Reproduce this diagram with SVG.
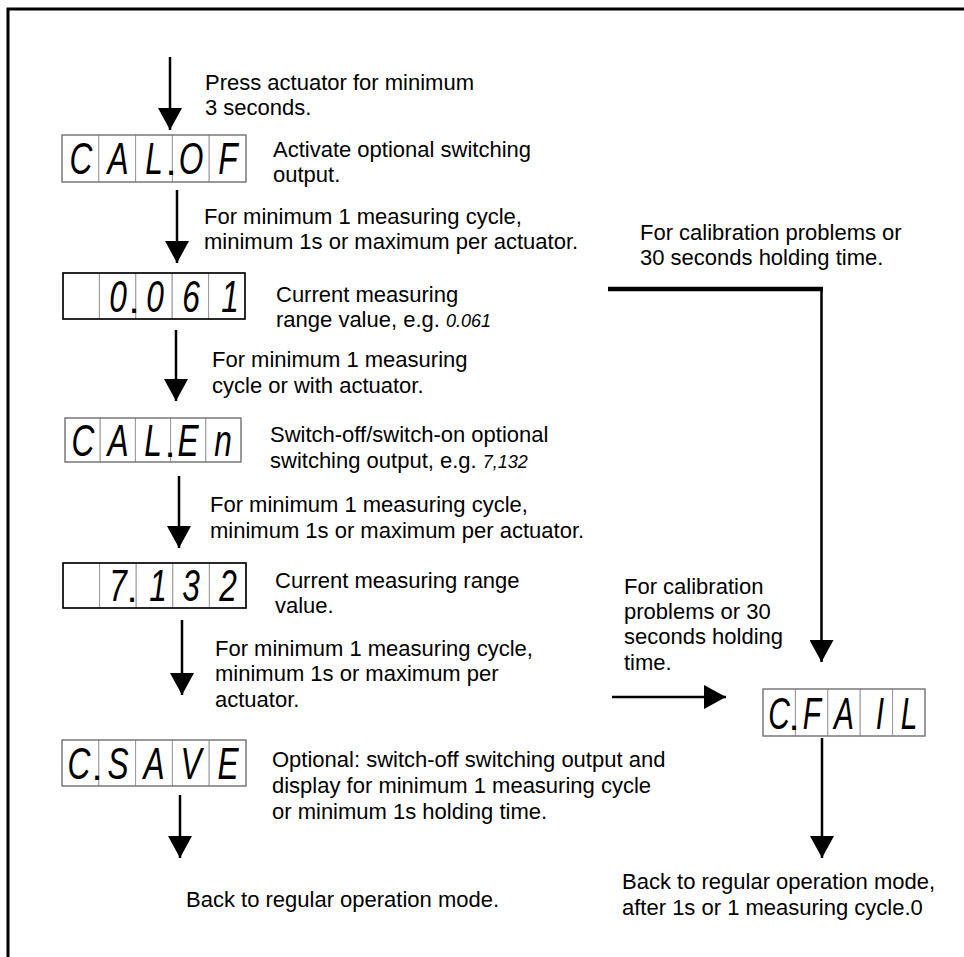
<svg xmlns="http://www.w3.org/2000/svg" width="964" height="957" viewBox="0 0 964 957">
<style>
.t{font-family:"Liberation Sans",Arial,sans-serif;font-size:22px;fill:#000}
.seg{font-family:"Liberation Sans",Arial,sans-serif;font-style:italic;font-size:44px;fill:#000;text-anchor:middle}
.dot{font-family:"Liberation Sans",Arial,sans-serif;font-size:40px;fill:#000;text-anchor:middle}
.iseg{font-family:"Liberation Sans",Arial,sans-serif;font-style:italic;font-size:18px}
.cell{fill:#fff;stroke:#999;stroke-width:1}
.outer{fill:none;stroke:#777;stroke-width:1.2}
.outerk{fill:none;stroke:#000;stroke-width:1.6}
.con{stroke:#000;stroke-width:2.5;fill:none}
</style>
<defs>
<marker id="ah" viewBox="0 0 22 24" refX="22" refY="12" markerWidth="22" markerHeight="24" markerUnits="userSpaceOnUse" orient="auto">
<path d="M0,0 L22,12 L0,24 Z" fill="#000"/>
</marker>
</defs>
<rect width="964" height="957" fill="#fff"/>
<path d="M8,957 V9 H964" fill="none" stroke="#000" stroke-width="3"/>

<g id="connectors">
<line class="con" x1="170" y1="57" x2="170" y2="130" marker-end="url(#ah)"/>
<line class="con" x1="177" y1="190" x2="177" y2="263" marker-end="url(#ah)"/>
<line class="con" x1="176" y1="330" x2="176" y2="401" marker-end="url(#ah)"/>
<line class="con" x1="179" y1="476" x2="179" y2="548" marker-end="url(#ah)"/>
<line class="con" x1="182" y1="620" x2="182" y2="695" marker-end="url(#ah)"/>
<line class="con" x1="180" y1="795" x2="180" y2="858" marker-end="url(#ah)"/>
<line x1="608" y1="289" x2="823" y2="289" stroke="#000" stroke-width="4.5"/>
<line class="con" x1="821.5" y1="287" x2="821.5" y2="662" stroke-width="3" marker-end="url(#ah)"/>
<line class="con" x1="612" y1="697" x2="726" y2="697" marker-end="url(#ah)"/>
<line class="con" x1="822" y1="738" x2="822" y2="858" marker-end="url(#ah)"/>
</g>

<g id="start-label">
<text class="t" x="205" y="90">Press actuator for minimum</text>
<text class="t" x="205" y="115">3 seconds.</text>
</g>

<g id="disp-calof">
<rect class="cell" x="62" y="135" width="36.8" height="47"/>
<rect class="cell" x="98.8" y="135" width="36.8" height="47"/>
<rect class="cell" x="135.6" y="135" width="36.8" height="47"/>
<rect class="cell" x="172.4" y="135" width="36.8" height="47"/>
<rect class="cell" x="209.2" y="135" width="36.8" height="47"/>
<rect class="outer" x="62" y="135" width="184" height="47"/>
<text class="seg" transform="translate(81,174) scale(0.72,1)">C</text>
<text class="seg" transform="translate(118,174) scale(0.72,1)">A</text>
<text class="seg" transform="translate(154,174) scale(0.72,1)">L</text>
<text class="dot" x="171" y="175">.</text>
<text class="seg" transform="translate(191,174) scale(0.72,1)">O</text>
<text class="seg" transform="translate(228,174) scale(0.72,1)">F</text>
<text class="t" x="273" y="157">Activate optional switching</text>
<text class="t" x="273" y="182">output.</text>
</g>

<g id="step1-label">
<text class="t" x="204" y="224">For minimum 1 measuring cycle,</text>
<text class="t" x="204" y="249">minimum 1s or maximum per actuator.</text>
</g>

<g id="calib-label-top">
<text class="t" x="640" y="240">For calibration problems or</text>
<text class="t" x="640" y="265">30 seconds holding time.</text>
</g>

<g id="disp-0061">
<rect class="cell" x="63" y="273" width="36.4" height="46"/>
<rect class="cell" x="99.4" y="273" width="36.4" height="46"/>
<rect class="cell" x="135.8" y="273" width="36.4" height="46"/>
<rect class="cell" x="172.2" y="273" width="36.4" height="46"/>
<rect class="cell" x="208.6" y="273" width="36.4" height="46"/>
<rect class="outerk" x="63" y="273" width="182" height="46"/>
<text class="seg" transform="translate(118,312) scale(0.72,1)">0</text>
<text class="dot" x="134" y="313">.</text>
<text class="seg" transform="translate(155,312) scale(0.72,1)">0</text>
<text class="seg" transform="translate(191,312) scale(0.72,1)">6</text>
<text class="seg" transform="translate(230,312) scale(0.72,1)">1</text>
<text class="t" x="276" y="302">Current measuring</text>
<text class="t" x="276" y="327">range value, e.g. <tspan class="iseg">0.061</tspan></text>
</g>

<g id="step2-label">
<text class="t" x="212" y="367">For minimum 1 measuring</text>
<text class="t" x="212" y="393">cycle or with actuator.</text>
</g>

<g id="disp-calen">
<rect class="cell" x="65" y="418" width="35.2" height="44"/>
<rect class="cell" x="100.2" y="418" width="35.2" height="44"/>
<rect class="cell" x="135.4" y="418" width="35.2" height="44"/>
<rect class="cell" x="170.6" y="418" width="35.2" height="44"/>
<rect class="cell" x="205.8" y="418" width="35.2" height="44"/>
<rect class="outer" x="65" y="418" width="176" height="44"/>
<text class="seg" transform="translate(83,456) scale(0.72,1)">C</text>
<text class="seg" transform="translate(118,456) scale(0.72,1)">A</text>
<text class="seg" transform="translate(153,456) scale(0.72,1)">L</text>
<text class="dot" x="170" y="457">.</text>
<text class="seg" transform="translate(188,456) scale(0.72,1)">E</text>
<text class="seg" transform="translate(223,456) scale(0.72,1)">n</text>
<text class="t" x="270" y="442">Switch-off/switch-on optional</text>
<text class="t" x="270" y="468">switching output, e.g. <tspan class="iseg">7,132</tspan></text>
</g>

<g id="step3-label">
<text class="t" x="210" y="512">For minimum 1 measuring cycle,</text>
<text class="t" x="210" y="538">minimum 1s or maximum per actuator.</text>
</g>

<g id="disp-7132">
<rect class="cell" x="63" y="563" width="36.6" height="45"/>
<rect class="cell" x="99.6" y="563" width="36.6" height="45"/>
<rect class="cell" x="136.2" y="563" width="36.6" height="45"/>
<rect class="cell" x="172.8" y="563" width="36.6" height="45"/>
<rect class="cell" x="209.4" y="563" width="36.6" height="45"/>
<rect class="outerk" x="63" y="563" width="183" height="45"/>
<text class="seg" transform="translate(118,601) scale(0.72,1)">7</text>
<text class="dot" x="132" y="602">.</text>
<text class="seg" transform="translate(158,601) scale(0.72,1)">1</text>
<text class="seg" transform="translate(191,601) scale(0.72,1)">3</text>
<text class="seg" transform="translate(228,601) scale(0.72,1)">2</text>
<text class="t" x="275" y="588">Current measuring range</text>
<text class="t" x="275" y="613">value.</text>
</g>

<g id="step4-label">
<text class="t" x="215" y="656">For minimum 1 measuring cycle,</text>
<text class="t" x="215" y="681">minimum 1s or maximum per</text>
<text class="t" x="215" y="707">actuator.</text>
</g>

<g id="calib-label-mid">
<text class="t" x="624" y="594">For calibration</text>
<text class="t" x="624" y="619">problems or 30</text>
<text class="t" x="624" y="644">seconds holding</text>
<text class="t" x="624" y="670">time.</text>
</g>

<g id="disp-cfail">
<rect class="cell" x="763" y="689" width="32.4" height="47"/>
<rect class="cell" x="795.4" y="689" width="32.4" height="47"/>
<rect class="cell" x="827.8" y="689" width="32.4" height="47"/>
<rect class="cell" x="860.2" y="689" width="32.4" height="47"/>
<rect class="cell" x="892.6" y="689" width="32.4" height="47"/>
<rect class="outer" x="763" y="689" width="162" height="47"/>
<text class="seg" transform="translate(779,729) scale(0.68,1)">C</text>
<text class="dot" x="794" y="730">.</text>
<text class="seg" transform="translate(812,729) scale(0.68,1)">F</text>
<text class="seg" transform="translate(844,729) scale(0.68,1)">A</text>
<text class="seg" transform="translate(880,729) scale(0.68,1)">I</text>
<text class="seg" transform="translate(909,729) scale(0.68,1)">L</text>
</g>

<g id="disp-csave">
<rect class="cell" x="62" y="740" width="36.8" height="46"/>
<rect class="cell" x="98.8" y="740" width="36.8" height="46"/>
<rect class="cell" x="135.6" y="740" width="36.8" height="46"/>
<rect class="cell" x="172.4" y="740" width="36.8" height="46"/>
<rect class="cell" x="209.2" y="740" width="36.8" height="46"/>
<rect class="outer" x="62" y="740" width="184" height="46"/>
<text class="seg" transform="translate(79,779) scale(0.72,1)">C</text>
<text class="dot" x="97" y="780">.</text>
<text class="seg" transform="translate(118,779) scale(0.72,1)">S</text>
<text class="seg" transform="translate(154,779) scale(0.72,1)">A</text>
<text class="seg" transform="translate(191,779) scale(0.72,1)">V</text>
<text class="seg" transform="translate(228,779) scale(0.72,1)">E</text>
<text class="t" x="272" y="767">Optional: switch-off switching output and</text>
<text class="t" x="272" y="793">display for minimum 1 measuring cycle</text>
<text class="t" x="272" y="819">or minimum 1s holding time.</text>
</g>

<g id="end-left">
<text class="t" x="186" y="907">Back to regular operation mode.</text>
</g>

<g id="end-right">
<text class="t" x="622" y="889">Back to regular operation mode,</text>
<text class="t" x="622" y="915">after 1s or 1 measuring cycle.0</text>
</g>
</svg>
